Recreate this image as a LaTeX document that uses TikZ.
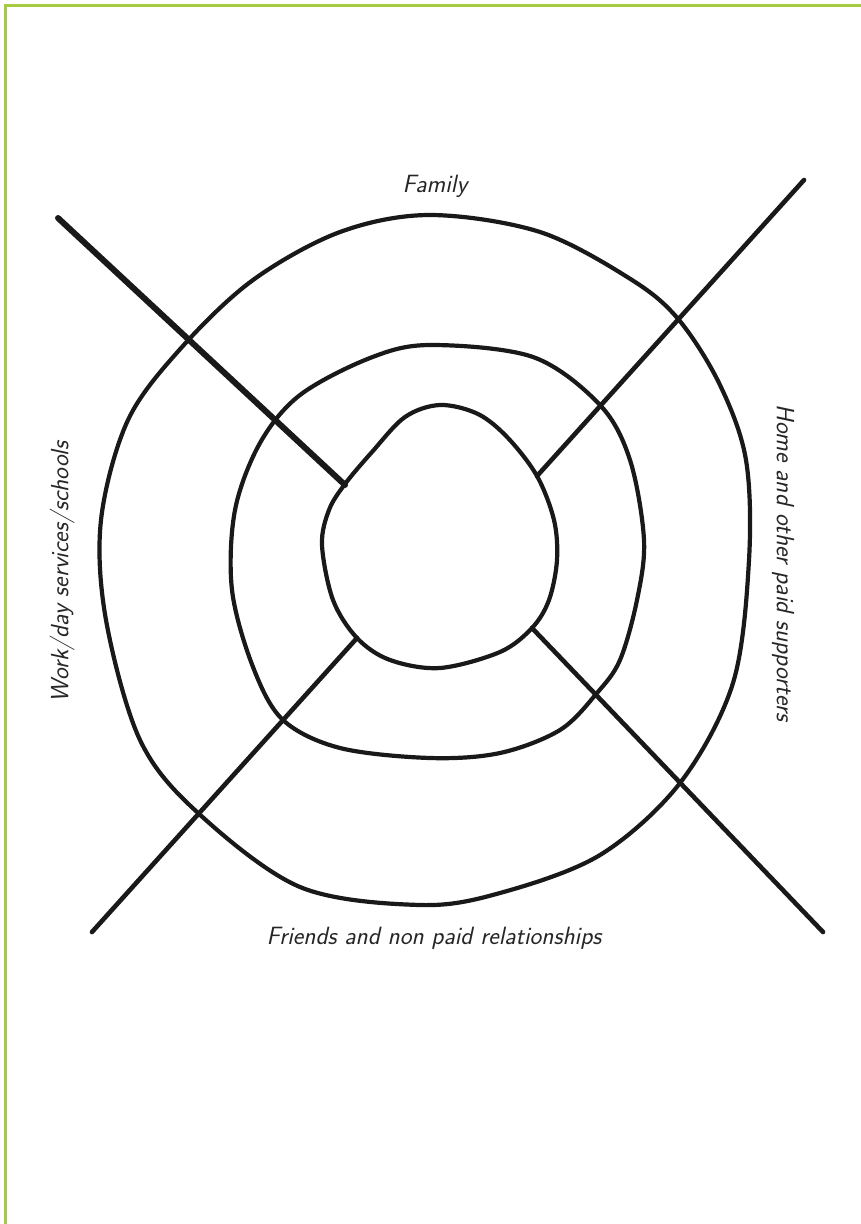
\documentclass[tikz,border=0pt]{standalone}
\usepackage{fontspec}
\usepackage{tikz}
\usetikzlibrary{
    arrows.meta,
    calc
}
\definecolor{framegreen}{RGB}{166,202,64}

\begin{document}
\begin{tikzpicture}[
    x=1pt,
    y=-1pt,
    every node/.style={
        font=\fontsize{25pt}{28pt}\selectfont\sffamily\itshape
    },
    ring/.style={
        draw=black!90,
        line width=4.2pt,
        line join=round
    },
    spoke/.style={
        draw=black!90,
        line width=4.6pt,
        line cap=round
    },
    sectorlabel/.style={
        inner sep=0pt,
        text=black!85
    },
    pageframe/.style={
        draw=framegreen,
        line width=2.6pt
    }
]

\useasboundingbox (0,0) rectangle (861,1224);

% ==========================================================
% Page frame (top and left edges only)
% ==========================================================
\draw[pageframe] (5.5,1224) -- (5.5,5.5) -- (861,5.5);

% ==========================================================
% Three hand-drawn rings
% ==========================================================
\draw[ring] plot[smooth cycle, tension=0.55] coordinates {
    (430,215) (540,232) (632,280) (679,320) (720,385) (746,460)
    (749,560) (733,683) (680,783) (600,855) (500,893) (420,905)
    (300,887) (197,812) (140,740) (106,620) (101,520) (128,420)
    (182,347) (253,280) (340,232)
};

\draw[ring] plot[smooth cycle, tension=0.55] coordinates {
    (430,345) (533,357) (600,405) (630,460) (644,540) (637,600)
    (620,660) (597,693) (560,730) (500,753) (430,758) (340,748)
    (283,720) (253,667) (232,590) (235,510) (260,443) (300,395)
    (370,358)
};

\draw[ring] plot[smooth cycle, tension=0.55] coordinates {
    (440,405) (478,414) (508,438) (537,476) (554,520) (557,560)
    (549,600) (532,628) (500,652) (440,668) (390,660) (357,638)
    (333,600) (322,545) (329,510) (345,484) (372,452) (405,417)
};

% ==========================================================
% Spokes from the inner ring outwards
% ==========================================================
\coordinate (tlin)  at (345,485);
\coordinate (tlout) at (58,218);
\coordinate (trin)  at (537,476);
\coordinate (trout) at (804,180);
\coordinate (blin)  at (357,638);
\coordinate (blout) at (92,932);
\coordinate (brin)  at (532,628);
\coordinate (brout) at (823,932);

\draw[spoke, line width=6pt] (tlin) -- (tlout);
\draw[spoke] (trin) -- (trout);
\draw[spoke] (blin) -- (blout);
\draw[spoke] (brin) -- (brout);

% ==========================================================
% Sector labels
% ==========================================================
\node[sectorlabel] (family) at (435,186) {Family};

\node[sectorlabel] (friends) at (434,938) {Friends and non paid relationships};

\node[sectorlabel, rotate=90] (work) at (62,572) {Work/day services/schools};

\node[sectorlabel, rotate=-90] (home) at (783,563) {Home and other paid supporters};

\end{tikzpicture}
\end{document}
